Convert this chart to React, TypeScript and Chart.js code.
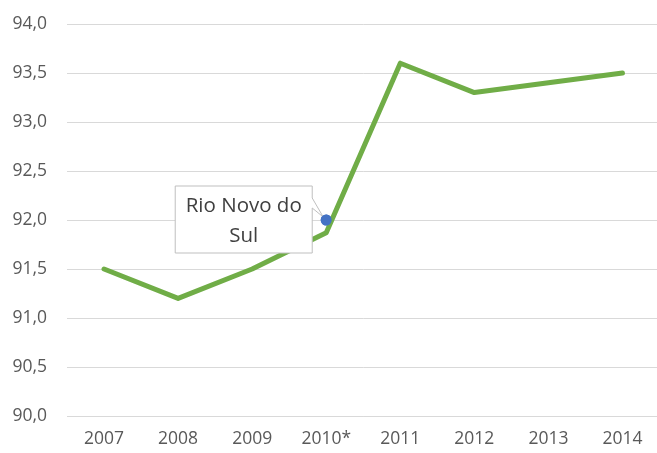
import React, { useEffect, useRef } from "react";
import { Chart, registerables } from "chart.js";

Chart.register(...registerables);

const years = ["2007", "2008", "2009", "2010*", "2011", "2012", "2013", "2014"];
const values = [91.5, 91.2, 91.5, 91.87, 93.6, 93.3, 93.4, 93.5];
const markerValues = [null, null, null, 92.0, null, null, null, null];
const markerLabel = ["Rio Novo do", "Sul"];
const yMin = 90;
const yMax = 94;
const yStep = 0.5;

const FONT = "'Open Sans', 'Noto Sans', sans-serif";

const calloutPlugin = {
  id: "callout",
  afterDatasetsDraw(chart: any) {
    const meta = chart.getDatasetMeta(1);
    const idx = markerValues.findIndex((v) => v !== null);
    if (idx < 0) return;
    const pt = meta.data[idx];
    if (!pt) return;
    const px = pt.x;
    const py = pt.y;
    const ctx = chart.ctx;
    const left = px - 151;
    const right = px - 14;
    const top = py - 34;
    const bottom = py + 33;
    ctx.save();
    ctx.beginPath();
    ctx.moveTo(left, top);
    ctx.lineTo(right, top);
    ctx.lineTo(right, top + 12);
    ctx.lineTo(px - 3, py - 3);
    ctx.lineTo(right, top + 22);
    ctx.lineTo(right, bottom);
    ctx.lineTo(left, bottom);
    ctx.closePath();
    ctx.fillStyle = "#ffffff";
    ctx.fill();
    ctx.strokeStyle = "#BFBFBF";
    ctx.lineWidth = 1;
    ctx.stroke();
    ctx.fillStyle = "#404040";
    ctx.font = `20.5px ${FONT}`;
    ctx.textAlign = "center";
    ctx.textBaseline = "middle";
    const cx = (left + right) / 2;
    ctx.fillText(markerLabel[0], cx, py - 14);
    ctx.fillText(markerLabel[1], cx, py + 16);
    ctx.restore();
    ctx.save();
    ctx.beginPath();
    ctx.arc(px, py, 5.5, 0, Math.PI * 2);
    ctx.fillStyle = "#4472C4";
    ctx.fill();
    ctx.restore();
  },
};

export default function App() {
  const ref = useRef<HTMLCanvasElement | null>(null);
  useEffect(() => {
    if (!ref.current) return;
    const chart = new Chart(ref.current, {
      type: "line",
      data: {
        labels: years,
        datasets: [
          {
            data: values,
            borderColor: "#70AD47",
            backgroundColor: "#70AD47",
            borderWidth: 5,
            pointRadius: 0,
            tension: 0,
            borderCapStyle: "round",
            borderJoinStyle: "round",
          },
          {
            data: markerValues as any,
            borderColor: "#4472C4",
            backgroundColor: "#4472C4",
            showLine: false,
            pointRadius: 5.5,
            pointBorderWidth: 0,
          },
        ],
      },
      options: {
        animation: false,
        responsive: false,
        maintainAspectRatio: false,
        layout: { padding: { top: 24, right: 0, left: 0, bottom: 0 } },
        plugins: {
          legend: { display: false },
          tooltip: { enabled: false },
        },
        scales: {
          x: {
            offset: true,
            grid: { display: false, drawTicks: false },
            border: { display: true, color: "#D9D9D9", width: 1 },
            ticks: {
              color: "#595959",
              font: { family: FONT, size: 17.5 },
              padding: 13,
              maxRotation: 0,
            },
            afterFit(scale: any) {
              scale.height = 37;
              scale.paddingLeft = 0;
              scale.paddingRight = 0;
            },
          },
          y: {
            min: yMin,
            max: yMax,
            grid: { color: "#D9D9D9", lineWidth: 1, drawTicks: false },
            border: { display: false },
            ticks: {
              stepSize: yStep,
              color: "#595959",
              font: { family: FONT, size: 17.5 },
              padding: 20,
              callback: (v: any) => Number(v).toFixed(1).replace(".", ","),
            },
            afterFit(scale: any) {
              scale.width = 67;
              scale.paddingTop = 0;
              scale.paddingBottom = 0;
            },
          },
        },
      },
      plugins: [calloutPlugin],
    });
    return () => chart.destroy();
  }, []);
  return (
    <div style={{ position: "absolute", left: 0, top: 0, width: 657, height: 453, overflow: "hidden", background: "#fff" }}>
      <canvas ref={ref} width={665} height={453} style={{ width: 665, height: 453, display: "block" }} />
    </div>
  );
}
